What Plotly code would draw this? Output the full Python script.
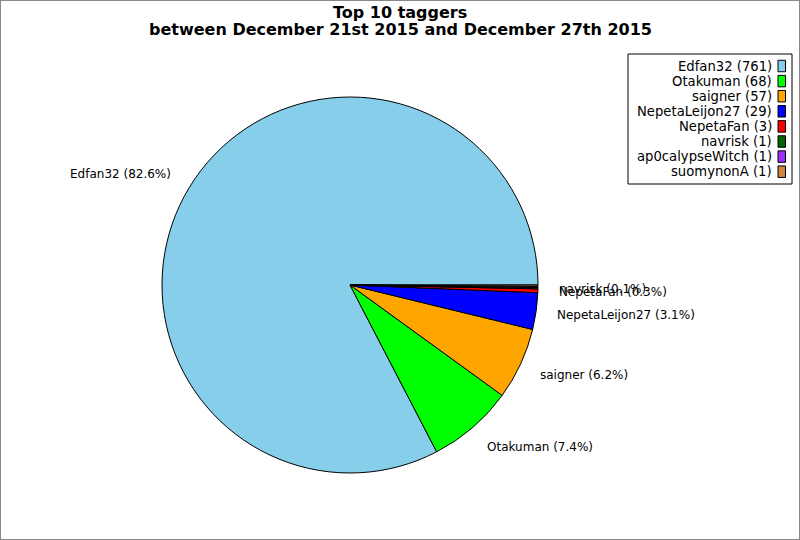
import math
import plotly.graph_objects as go

names = ["Edfan32", "Otakuman", "saigner", "NepetaLeijon27", "NepetaFan",
         "navrisk", "ap0calypseWitch", "suomynonA"]
counts = [761, 68, 57, 29, 3, 1, 1, 1]
colors = ["#87CEEB", "#00FF00", "#FFA500", "#0000FF", "#FF0000",
          "#006400", "#9B30FF", "#CD853F"]
shown_labels = [True, True, True, True, True, True, False, False]
title_lines = ["Top 10 taggers",
               "between December 21st 2015 and December 27th 2015"]

W, H = 800, 540
cx, cy, R = 350, 285, 188


def px(x):
    return x / W


def py(y):
    return 1 - y / H


total = sum(counts)

# plotly's counterclockwise pies end the first slice at `rotation`,
# so shift by the first slice to make it start at 3 o'clock
rot = 90 - 360 * counts[0] / total

fig = go.Figure(go.Pie(
    labels=names,
    values=counts,
    marker=dict(colors=colors, line=dict(color="black", width=1)),
    sort=False,
    direction="counterclockwise",
    rotation=rot,
    textinfo="none",
    hoverinfo="label+value+percent",
    showlegend=False,
    domain=dict(x=[px(cx - R), px(cx + R)], y=[py(cy + R), py(cy - R)]),
))

annotations = []
shapes = []

# slice labels just outside the rim
cum = 0
for name, v, show in zip(names, counts, shown_labels):
    ang = 2 * math.pi * (cum + v / 2) / total
    cum += v
    if not show:
        continue
    lx = cx + 1.1 * R * math.cos(ang)
    ly = cy - 1.14 * R * math.sin(ang)
    annotations.append(dict(
        x=px(lx), y=py(ly), xref="paper", yref="paper",
        text=f"{name} ({100 * v / total:.1f}%)",
        showarrow=False,
        xanchor="left" if math.cos(ang) >= 0 else "right",
        yanchor="middle",
        font=dict(size=12, color="black"),
    ))

# title, two bold lines
for i, line in enumerate(title_lines):
    annotations.append(dict(
        x=0.5, y=py(12 + 17.5 * i), xref="paper", yref="paper",
        text=f"<b>{line}</b>", showarrow=False,
        xanchor="center", yanchor="middle",
        font=dict(size=16, color="black"),
    ))

# legend box with swatches on the right
shapes.append(dict(type="rect", xref="paper", yref="paper",
                   x0=px(628), x1=px(792), y0=py(184), y1=py(54),
                   line=dict(color="black", width=1), fillcolor="white"))
for i, (name, v, c) in enumerate(zip(names, counts, colors)):
    yc = 66 + 15.1 * i
    annotations.append(dict(
        x=px(774), y=py(yc), xref="paper", yref="paper",
        text=f"{name} ({v})", showarrow=False,
        xanchor="right", yanchor="middle",
        font=dict(size=13.2, color="black"),
    ))
    shapes.append(dict(type="rect", xref="paper", yref="paper",
                       x0=px(778), x1=px(785.5), y0=py(yc + 5.75), y1=py(yc - 5.75),
                       line=dict(color="black", width=1), fillcolor=c))

# outer frame
shapes.append(dict(type="rect", xref="paper", yref="paper",
                   x0=0, x1=1, y0=0, y1=1,
                   line=dict(color="#888888", width=2)))

fig.update_layout(
    width=W, height=H,
    margin=dict(l=0, r=0, t=0, b=0),
    paper_bgcolor="white",
    font=dict(family="DejaVu Sans", color="black"),
    annotations=annotations,
    shapes=shapes,
)

fig.write_html("out.html", config={"displayModeBar": False},
               post_script="document.body.style.margin = '0';")
